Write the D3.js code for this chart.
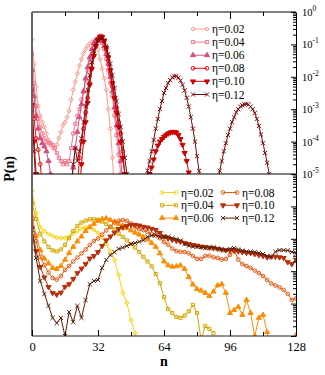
<!DOCTYPE html>
<html>
<head>
<meta charset="utf-8">
<script src="https://cdn.jsdelivr.net/npm/d3@7"></script>
<style>
body { margin: 0; background: #fff; }
svg { display: block; font-family: "Liberation Serif", "Times New Roman", serif; }
</style>
</head>
<body>
<div id="chart"></div>
<script>
// log10 P(n), upper panel, one point per n; each segment = [first n, values]
var top02 = [[0, [-0.85,-1.6,-2.3,-2.9,-3.2,-3.4,-3.55,-3.75,-3.95,-4.1,-4.2,-4.2,-4.1,-3.9,-3.7,-3.5,-3.4,-3.25,-3.05,-2.7,-2.4,-2.15,-1.9,-1.65,-1.45,-1.28,-1.15,-1.05,-0.98,-0.93,-0.89,-0.95,-1.15,-1.45,-1.75,-2.05,-2.4,-3.0,-3.6,-4.5,-5.5]]]
var top04 = [[0, [-1.29,-2.2,-2.9,-3.3,-3.55,-3.75,-3.9,-4.0,-4.05,-4.05,-4.1,-4.2,-4.35,-4.5,-4.6,-4.7,-4.6,-4.7,-4.6,-4.2,-3.75,-3.45,-3.2,-3.0,-2.7,-2.45,-2.1,-1.8,-1.55,-1.3,-1.12,-1.0,-0.9,-0.86,-0.95,-1.15,-1.45,-1.8,-2.2,-2.6,-3.2,-3.8,-4.4,-5.0,-5.6]]]
var top06 = [[0, [-1.79,-2.6,-3.2,-3.6,-3.9,-4.05,-4.15,-4.3,-4.6,-5.0,-5.4]],
             [19, [-5.4,-4.8,-4.2,-3.7,-3.25,-2.85,-2.45,-2.05,-1.7,-1.4,-1.15,-0.97,-0.87,-0.82,-0.82,-0.9,-1.05,-1.3,-1.6,-2.0,-2.45,-2.95,-3.5,-4.05,-4.6,-5.2,-5.8]]]
var top08 = [[0, [-2.42,-3.3,-3.9,-4.25,-4.7,-5.4]],
             [22, [-5.4,-4.5,-4.0,-3.6,-3.1,-2.65,-2.2,-1.75,-1.35,-1.05,-0.85,-0.74,-0.75,-0.9,-1.15,-1.5,-1.9,-2.3,-2.65,-2.95,-3.4,-3.75,-4.3,-5.0,-5.7]]]
var top10 = [[0, [-2.87,-4.0,-5.0,-5.6]],
             [23, [-5.6,-4.7,-4.0,-3.4,-2.8,-2.25,-1.75,-1.35,-1.05,-0.87,-0.78,-0.78,-0.88,-1.1,-1.4,-1.8,-2.2,-2.65,-3.1,-3.55,-4.0,-4.5,-5.0,-5.6]],
             [56, [-5.6,-5.0,-4.8,-4.55,-4.3,-4.12,-4.0,-3.92,-3.85,-3.8,-3.75,-3.72,-3.7,-3.7,-3.72,-3.8,-3.92,-4.1,-4.35,-4.6,-4.95,-5.5]]]
var top12 = [[0, [-3.0,-4.3,-5.5]],
             [19, [-5.5,-4.7,-4.2,-4.6,-4.3,-3.9,-3.4,-2.9,-2.4,-1.95,-1.55,-1.2,-0.98,-0.85,-0.8,-0.8,-0.88,-1.05,-1.3,-1.6,-1.95,-2.35,-2.75,-3.15,-3.55,-4.0,-4.5,-5.0,-5.5]],
             [55, [-5.5,-4.9,-4.6,-4.3,-3.95,-3.6,-3.3,-3.0,-2.75,-2.5,-2.35,-2.2,-2.1,-2.02,-1.98,-1.98,-2.03,-2.12,-2.25,-2.42,-2.65,-2.92,-3.25,-3.6,-4.0,-4.45,-4.9,-5.5]],
             [90, [-5.5,-4.9,-4.6,-4.3,-4.05,-3.8,-3.6,-3.4,-3.25,-3.1,-3.0,-2.92,-2.88,-2.85,-2.84,-2.86,-2.92,-3.0,-3.12,-3.3,-3.52,-3.78,-4.05,-4.35,-4.65,-5.0,-5.5]]]

// log10 values, lower panel, n = 0, 2, 4, ...
var bot02 = [-5.52,-6.20,-6.64,-6.76,-6.85,-6.91,-6.96,-6.98,-6.98,-6.93,-6.84,-6.76,-6.68,-6.64,-6.65,-6.73,-6.82,-6.96,-7.16,-7.38,-7.65,-8.12,-8.67,-8.98,-9.51,-9.91,-10.4]
var bot04 = [-5.90,-6.39,-6.84,-7.08,-7.25,-7.36,-7.39,-7.33,-7.19,-6.98,-6.76,-6.60,-6.50,-6.44,-6.40,-6.40,-6.41,-6.47,-6.54,-6.63,-6.71,-6.84,-6.94,-7.05,-7.16,-7.27,-7.41,-7.56,-7.70,-7.85,-8.09,-8.37,-8.80,-9.17,-9.29,-9.41,-9.44,-9.37,-9.24,-9.04,-9.29,-10.12,-9.69,-9.78,-9.91]
var bot06 = [-6.30,-6.91,-7.35,-7.61,-7.76,-7.90,-7.93,-7.84,-7.65,-7.44,-7.25,-7.08,-6.93,-6.76,-6.64,-6.54,-6.45,-6.39,-6.37,-6.42,-6.47,-6.54,-6.60,-6.67,-6.74,-6.81,-6.87,-6.94,-7.02,-7.13,-7.25,-7.45,-7.70,-7.82,-7.86,-7.85,-7.82,-7.93,-8.18,-8.41,-8.55,-8.60,-8.67,-8.77,-8.63,-8.44,-8.40,-8.67,-9.29,-9.20,-9.10,-9.35,-8.89,-9.29,-10.0,-9.44,-9.35,-9.88,-10.4,null,null,null,null,-10.5,-9.98]
var bot08 = [-6.42,-7.07,-7.56,-7.81,-8.04,-8.21,-8.26,-8.15,-7.96,-7.84,-7.70,-7.58,-7.45,-7.33,-7.19,-7.07,-6.99,-6.87,-6.74,-6.63,-6.50,-6.44,-6.42,-6.45,-6.53,-6.64,-6.70,-6.73,-6.79,-6.85,-6.90,-6.98,-7.10,-7.18,-7.30,-7.38,-7.40,-7.41,-7.45,-7.53,-7.62,-7.62,-7.53,-7.52,-7.57,-7.59,-7.64,-7.62,-7.50,-7.35,-7.64,-7.78,-7.84,-7.90,-7.98,-8.06,-8.15,-8.27,-8.38,-8.44,-8.50,-8.58,-8.70,-8.89,-8.84]
var bot10 = [-6.67,-7.38,-7.87,-8.19,-8.49,-8.67,-8.72,-8.66,-8.48,-8.40,-8.24,-8.06,-7.92,-7.78,-7.61,-7.53,-7.41,-7.22,-7.05,-6.93,-6.81,-6.70,-6.65,-6.60,-6.57,-6.57,-6.59,-6.63,-6.65,-6.69,-6.73,-6.82,-6.93,-6.99,-7.03,-7.06,-7.09,-7.13,-7.16,-7.19,-7.21,-7.24,-7.25,-7.27,-7.29,-7.31,-7.33,-7.35,-7.36,-7.37,-7.39,-7.41,-7.43,-7.44,-7.47,-7.50,-7.53,-7.57,-7.55,-7.55,-7.57,-7.59,-7.72,-7.78,-7.64]
var bot12 = [-6.73,-7.59,-8.30,-8.70,-9.07,-9.44,-9.60,-9.44,-10.0,-9.26,-9.57,-9.07,-9.44,-8.89,-8.40,-8.30,-8.27,-7.90,-7.65,-7.50,-7.41,-7.31,-7.27,-7.22,-7.16,-7.13,-7.09,-7.04,-6.94,-6.90,-6.88,-6.94,-6.94,-6.93,-6.98,-7.01,-7.05,-7.16,-7.21,-7.24,-7.24,-7.25,-7.28,-7.28,-7.26,-7.30,-7.33,-7.35,-7.31,-7.29,-7.33,-7.36,-7.39,-7.40,-7.41,-7.44,-7.47,-7.53,-7.56,-7.40,-7.35,-7.35,-7.36,-7.41,-7.45]

var etaLabels = ['η=0.02', 'η=0.04', 'η=0.06', 'η=0.08', 'η=0.10', 'η=0.12']
var topColors = ['#ff9a88', '#f27a94', '#d2507c', '#f20a0a', '#d00000', '#7c0a0a']
var botColors = ['#ffd200', '#d4a800', '#ff8c00', '#e65c16', '#b8300a', '#5a1e05']
var markers = ['diamond', 'square', 'triangle', 'circle', 'triangleDown', 'cross']
var xMajor = [0, 32, 64, 96, 128]
var xMinor = [16, 48, 80, 112]

var W = 325, H = 375
var L = 32, R = 296, T = 12, M = 174, B = 336

var svg = d3.select('#chart').append('svg').attr('width', W).attr('height', H)

var x = d3.scaleLinear().domain([0, 128]).range([L, R])
var yTop = d3.scaleLog().domain([1e-5, 1]).range([M, T])
var yBot = d3.scaleLog().domain([1e-10, 1e-5]).range([B, M])

var defs = svg.append('defs')
defs.append('clipPath').attr('id', 'clipTop').append('rect').attr('x', L).attr('y', T).attr('width', R - L).attr('height', M - T)
defs.append('clipPath').attr('id', 'clipBot').append('rect').attr('x', L).attr('y', M).attr('width', R - L).attr('height', B - M)

function symbolFor(m) {
  if (m == 'diamond') return { path: d3.symbol(d3.symbolDiamond2, 12)(), fill: false, rot: 0 }
  if (m == 'square') return { path: d3.symbol(d3.symbolSquare, 10)(), fill: false, rot: 0 }
  if (m == 'triangle') return { path: d3.symbol(d3.symbolTriangle, 11)(), fill: true, rot: 0 }
  if (m == 'circle') return { path: d3.symbol(d3.symbolCircle, 11)(), fill: false, rot: 0 }
  if (m == 'triangleDown') return { path: d3.symbol(d3.symbolTriangle, 11)(), fill: true, rot: 180 }
  return { path: d3.symbol(d3.symbolTimes, 13)(), fill: false, rot: 0 }
}

function drawMarker(g, px, py, m, color) {
  var s = symbolFor(m)
  g.append('path')
    .attr('d', s.path)
    .attr('transform', 'translate(' + px + ',' + py + ') rotate(' + s.rot + ')')
    .attr('fill', s.fill ? color : 'none')
    .attr('stroke', color)
    .attr('stroke-width', 1)
}

function drawSeries(g, pts, color, m, y) {
  var line = d3.line()
    .defined(function (d) { return d[1] != null })
    .x(function (d) { return x(d[0]) })
    .y(function (d) { return y(Math.pow(10, d[1])) })
  g.append('path').attr('d', line(pts)).attr('fill', 'none').attr('stroke', color).attr('stroke-width', 1)
  pts.forEach(function (d) {
    if (d[1] == null) return
    drawMarker(g, x(d[0]), y(Math.pow(10, d[1])), m, color)
  })
}

// upper panel
var gTop = svg.append('g').attr('clip-path', 'url(#clipTop)')
;[top02, top04, top06, top08, top10, top12].forEach(function (segs, i) {
  segs.forEach(function (seg) {
    var pts = seg[1].map(function (e, k) { return [seg[0] + k, e] })
    drawSeries(gTop, pts, topColors[i], markers[i], yTop)
  })
})

// lower panel
var gBot = svg.append('g').attr('clip-path', 'url(#clipBot)')
;[bot02, bot04, bot06, bot08, bot10, bot12].forEach(function (vals, i) {
  var pts = vals.map(function (e, k) { return [2 * k, e] })
  drawSeries(gBot, pts, botColors[i], markers[i], yBot)
})

// frame
svg.append('line').attr('x1', L).attr('x2', R).attr('y1', T).attr('y2', T).attr('stroke', '#000')
svg.append('line').attr('x1', L).attr('x2', R).attr('y1', M).attr('y2', M).attr('stroke', '#000')
svg.append('line').attr('x1', L).attr('x2', R).attr('y1', B).attr('y2', B).attr('stroke', '#222')
svg.append('line').attr('x1', L).attr('x2', L).attr('y1', T).attr('y2', B).attr('stroke', '#666').attr('stroke-width', 2)

// x ticks
function xAxis(gen, yPos, vals, size, labels) {
  var a = svg.append('g').attr('transform', 'translate(0,' + yPos + ')')
    .call(gen(x).tickValues(vals).tickSizeInner(size).tickSizeOuter(0).tickPadding(6)
      .tickFormat(labels ? d3.format('d') : ''))
  a.select('.domain').remove()
  a.selectAll('text').attr('font-size', 12.5).attr('font-family', '"Liberation Serif", serif').attr('fill', '#000')
  return a
}
xAxis(d3.axisTop, T, [32, 64, 96], -7, false)
xAxis(d3.axisTop, T, xMinor, -4, false)
xAxis(d3.axisBottom, B, xMajor, -6, true)
xAxis(d3.axisBottom, B, xMinor, -4, false)

// right log axes
function rightAxis(y, labelled) {
  var all = y.ticks()
  var majors = all.filter(function (v) { return Math.abs(Math.log10(v) - Math.round(Math.log10(v))) < 1e-6 })
  var minors = all.filter(function (v) { return majors.indexOf(v) < 0 })
  var a = svg.append('g').attr('transform', 'translate(' + R + ',0)')
    .call(d3.axisRight(y).tickValues(majors).tickSizeInner(-5).tickSizeOuter(0).tickFormat(''))
  a.select('.domain').attr('stroke', '#000')
  var b = svg.append('g').attr('transform', 'translate(' + R + ',0)')
    .call(d3.axisRight(y).tickValues(minors).tickSizeInner(-3).tickSizeOuter(0).tickFormat(''))
  b.select('.domain').remove()
  if (labelled) {
    majors.forEach(function (v) {
      var t = svg.append('text').attr('x', R + 6).attr('y', y(v) + 4)
        .attr('font-size', 10.5).attr('fill', '#000')
      t.append('tspan').text('10')
      t.append('tspan').attr('dy', -5).attr('font-size', 7.5).text(Math.round(Math.log10(v)))
    })
  }
}
rightAxis(yTop, true)
rightAxis(yBot, false)

// legends
function legend(lx, ly, i, colors) {
  var g = svg.append('g')
  g.append('line').attr('x1', lx).attr('x2', lx + 14).attr('y1', ly).attr('y2', ly)
    .attr('stroke', colors[i]).attr('stroke-width', 1)
  drawMarker(g, lx, ly, markers[i], colors[i])
  drawMarker(g, lx + 14, ly, markers[i], colors[i])
  g.append('text').attr('x', lx + 19).attr('y', ly + 4).attr('font-size', 11.5).attr('fill', '#000').text(etaLabels[i])
}
etaLabels.forEach(function (d, i) { legend(193, 29 + i * 13.1, i, topColors) })
etaLabels.forEach(function (d, i) {
  var col = Math.floor(i / 3), row = i % 3
  legend(162 + col * 61, 192.5 + row * 12.8, i, botColors)
})

// axis titles
svg.append('text').attr('x', 164).attr('y', 366).attr('text-anchor', 'middle')
  .attr('font-size', 14).attr('font-weight', 'bold').text('n')
svg.append('text').attr('transform', 'translate(14,169) rotate(-90)').attr('text-anchor', 'middle')
  .attr('font-size', 14).attr('font-weight', 'bold').text('P(n)')
</script>
</body>
</html>
